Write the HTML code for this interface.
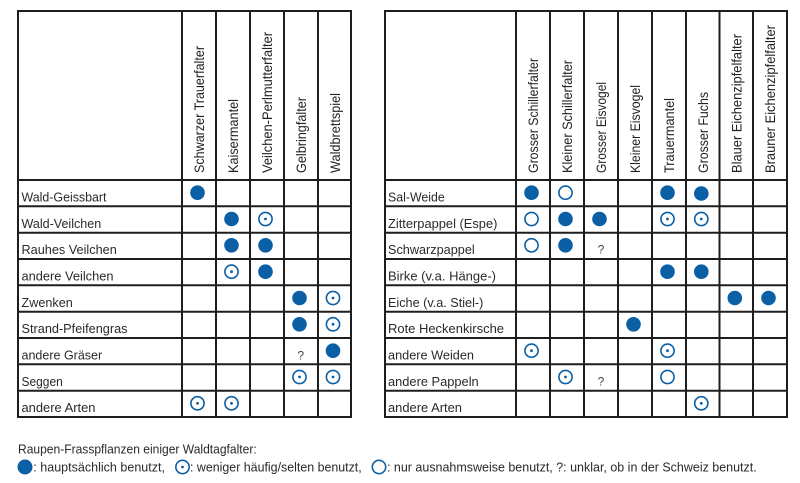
<!DOCTYPE html>
<html><head><meta charset="utf-8"><style>
html,body{margin:0;padding:0;background:#fff;}
svg{display:block;}
text{font-family:"Liberation Sans",Arial,sans-serif;}
</style></head><body>
<svg width="800" height="483" viewBox="0 0 800 483" xmlns="http://www.w3.org/2000/svg">
<defs>
<g id="F"><circle r="7.3" fill="#0b5fa5"/></g>
<g id="C"><circle r="6.6" fill="none" stroke="#0b5fa5" stroke-width="1.6"/><circle r="1.4" fill="#0b5fa5"/></g>
<g id="O"><circle r="6.6" fill="none" stroke="#0b5fa5" stroke-width="1.6"/></g>
</defs>
<g stroke="#1e1e1e" stroke-width="2" fill="none">
<rect x="18" y="11" width="333" height="406"/>
<line x1="182" y1="11" x2="182" y2="417"/>
<line x1="216" y1="11" x2="216" y2="417"/>
<line x1="250" y1="11" x2="250" y2="417"/>
<line x1="284" y1="11" x2="284" y2="417"/>
<line x1="318" y1="11" x2="318" y2="417"/>
<line x1="18" y1="180" x2="351" y2="180"/>
<line x1="18" y1="206.3" x2="351" y2="206.3"/>
<line x1="18" y1="232.7" x2="351" y2="232.7"/>
<line x1="18" y1="259" x2="351" y2="259"/>
<line x1="18" y1="285.3" x2="351" y2="285.3"/>
<line x1="18" y1="311.7" x2="351" y2="311.7"/>
<line x1="18" y1="338" x2="351" y2="338"/>
<line x1="18" y1="364.3" x2="351" y2="364.3"/>
<line x1="18" y1="390.7" x2="351" y2="390.7"/>
<rect x="385" y="11" width="402" height="406"/>
<line x1="516" y1="11" x2="516" y2="417"/>
<line x1="550" y1="11" x2="550" y2="417"/>
<line x1="584" y1="11" x2="584" y2="417"/>
<line x1="618" y1="11" x2="618" y2="417"/>
<line x1="652" y1="11" x2="652" y2="417"/>
<line x1="686" y1="11" x2="686" y2="417"/>
<line x1="719.5" y1="11" x2="719.5" y2="417"/>
<line x1="753" y1="11" x2="753" y2="417"/>
<line x1="385" y1="180" x2="787" y2="180"/>
<line x1="385" y1="206.3" x2="787" y2="206.3"/>
<line x1="385" y1="232.7" x2="787" y2="232.7"/>
<line x1="385" y1="259" x2="787" y2="259"/>
<line x1="385" y1="285.3" x2="787" y2="285.3"/>
<line x1="385" y1="311.7" x2="787" y2="311.7"/>
<line x1="385" y1="338" x2="787" y2="338"/>
<line x1="385" y1="364.3" x2="787" y2="364.3"/>
<line x1="385" y1="390.7" x2="787" y2="390.7"/>
</g>

<g fill="#222" font-size="13.6">
<text transform="translate(204,173) rotate(-90)" textLength="127" lengthAdjust="spacingAndGlyphs">Schwarzer Trauerfalter</text>
<text transform="translate(238,173) rotate(-90)" textLength="74" lengthAdjust="spacingAndGlyphs">Kaisermantel</text>
<text transform="translate(272,173) rotate(-90)" textLength="141" lengthAdjust="spacingAndGlyphs">Veilchen-Perlmutterfalter</text>
<text transform="translate(306,173) rotate(-90)" textLength="76" lengthAdjust="spacingAndGlyphs">Gelbringfalter</text>
<text transform="translate(340,173) rotate(-90)" textLength="80" lengthAdjust="spacingAndGlyphs">Waldbrettspiel</text>
<text transform="translate(538,173) rotate(-90)" textLength="115" lengthAdjust="spacingAndGlyphs">Grosser Schillerfalter</text>
<text transform="translate(572,173) rotate(-90)" textLength="113" lengthAdjust="spacingAndGlyphs">Kleiner Schillerfalter</text>
<text transform="translate(606,173) rotate(-90)" textLength="91" lengthAdjust="spacingAndGlyphs">Grosser Eisvogel</text>
<text transform="translate(640,173) rotate(-90)" textLength="88" lengthAdjust="spacingAndGlyphs">Kleiner Eisvogel</text>
<text transform="translate(674,173) rotate(-90)" textLength="75" lengthAdjust="spacingAndGlyphs">Trauermantel</text>
<text transform="translate(708,173) rotate(-90)" textLength="81" lengthAdjust="spacingAndGlyphs">Grosser Fuchs</text>
<text transform="translate(741.5,173) rotate(-90)" textLength="139" lengthAdjust="spacingAndGlyphs">Blauer Eichenzipfelfalter</text>
<text transform="translate(775,173) rotate(-90)" textLength="148" lengthAdjust="spacingAndGlyphs">Brauner Eichenzipfelfalter</text>
</g>

<g fill="#2a2a2a" font-size="13.3">
<text x="21.5" y="201.5" textLength="85" lengthAdjust="spacingAndGlyphs">Wald-Geissbart</text>
<text x="21.5" y="227.8" textLength="79.7" lengthAdjust="spacingAndGlyphs">Wald-Veilchen</text>
<text x="21.5" y="254.2" textLength="95.3" lengthAdjust="spacingAndGlyphs">Rauhes Veilchen</text>
<text x="21.5" y="280.5" textLength="92" lengthAdjust="spacingAndGlyphs">andere Veilchen</text>
<text x="21.5" y="306.8" textLength="51.3" lengthAdjust="spacingAndGlyphs">Zwenken</text>
<text x="21.5" y="333.2" textLength="106" lengthAdjust="spacingAndGlyphs">Strand-Pfeifengras</text>
<text x="21.5" y="359.5" textLength="80.7" lengthAdjust="spacingAndGlyphs">andere Gräser</text>
<text x="21.5" y="385.8" textLength="41.3" lengthAdjust="spacingAndGlyphs">Seggen</text>
<text x="21.5" y="412.2" textLength="74" lengthAdjust="spacingAndGlyphs">andere Arten</text>
<text x="388" y="201.5" textLength="56.7" lengthAdjust="spacingAndGlyphs">Sal-Weide</text>
<text x="388" y="227.8" textLength="109.4" lengthAdjust="spacingAndGlyphs">Zitterpappel (Espe)</text>
<text x="388" y="254.2" textLength="86.7" lengthAdjust="spacingAndGlyphs">Schwarzpappel</text>
<text x="388" y="280.5" textLength="108" lengthAdjust="spacingAndGlyphs">Birke (v.a. Hänge-)</text>
<text x="388" y="306.8" textLength="95.3" lengthAdjust="spacingAndGlyphs">Eiche (v.a. Stiel-)</text>
<text x="388" y="333.2" textLength="116" lengthAdjust="spacingAndGlyphs">Rote Heckenkirsche</text>
<text x="388" y="359.5" textLength="86" lengthAdjust="spacingAndGlyphs">andere Weiden</text>
<text x="388" y="385.8" textLength="90.7" lengthAdjust="spacingAndGlyphs">andere Pappeln</text>
<text x="388" y="412.2" textLength="74" lengthAdjust="spacingAndGlyphs">andere Arten</text>
</g>

<use href="#F" x="197.5" y="192.7"/>
<use href="#F" x="231.5" y="219"/><use href="#C" x="265.5" y="219"/>
<use href="#F" x="231.5" y="245.3"/><use href="#F" x="265.5" y="245.3"/>
<use href="#C" x="231.5" y="271.7"/><use href="#F" x="265.5" y="271.7"/>
<use href="#F" x="299.5" y="298"/><use href="#C" x="333" y="298"/>
<use href="#F" x="299.5" y="324.3"/><use href="#C" x="333" y="324.3"/>
<use href="#F" x="333" y="350.7"/>
<use href="#C" x="299.5" y="377"/><use href="#C" x="333" y="377"/>
<use href="#C" x="197.5" y="403.3"/><use href="#C" x="231.5" y="403.3"/>

<use href="#F" x="531.5" y="192.7"/><use href="#O" x="565.5" y="192.7"/><use href="#F" x="667.5" y="192.7"/><use href="#F" x="701.3" y="193.5"/>
<use href="#O" x="531.5" y="219"/><use href="#F" x="565.5" y="219"/><use href="#F" x="599.5" y="219"/><use href="#C" x="667.5" y="219"/><use href="#C" x="701.3" y="219"/>
<use href="#O" x="531.5" y="245.3"/><use href="#F" x="565.5" y="245.3"/>
<use href="#F" x="667.5" y="271.7"/><use href="#F" x="701.3" y="271.7"/>
<use href="#F" x="734.8" y="298"/><use href="#F" x="768.5" y="298"/>
<use href="#F" x="633.5" y="324.3"/>
<use href="#C" x="531.5" y="350.7"/><use href="#C" x="667.5" y="350.7"/>
<use href="#C" x="565.5" y="377"/><use href="#O" x="667.5" y="377"/>
<use href="#C" x="701.3" y="403.3"/>

<g fill="#444" font-size="12" text-anchor="middle">
<text x="300.7" y="359.5">?</text>
<text x="601" y="253.5">?</text>
<text x="601" y="385.5">?</text>
</g>

<g fill="#2a2a2a" font-size="12.8">
<text x="18" y="453.3" textLength="238.7" lengthAdjust="spacingAndGlyphs">Raupen-Frasspflanzen einiger Waldtagfalter:</text>
<circle cx="25" cy="467" r="7.5" fill="#0b5fa5"/>
<text x="33.3" y="471.5" textLength="131.7" lengthAdjust="spacingAndGlyphs">: hauptsächlich benutzt,</text>
<circle cx="182.5" cy="467" r="6.7" fill="none" stroke="#0b5fa5" stroke-width="1.6"/>
<circle cx="182.5" cy="467" r="1.4" fill="#0b5fa5"/>
<text x="190" y="471.5" textLength="171.7" lengthAdjust="spacingAndGlyphs">: weniger häufig/selten benutzt,</text>
<circle cx="379" cy="467" r="6.7" fill="none" stroke="#0b5fa5" stroke-width="1.6"/>
<text x="387" y="471.5" textLength="369.7" lengthAdjust="spacingAndGlyphs">: nur ausnahmsweise benutzt, ?: unklar, ob in der Schweiz benutzt.</text>
</g>
</svg>
</body></html>
